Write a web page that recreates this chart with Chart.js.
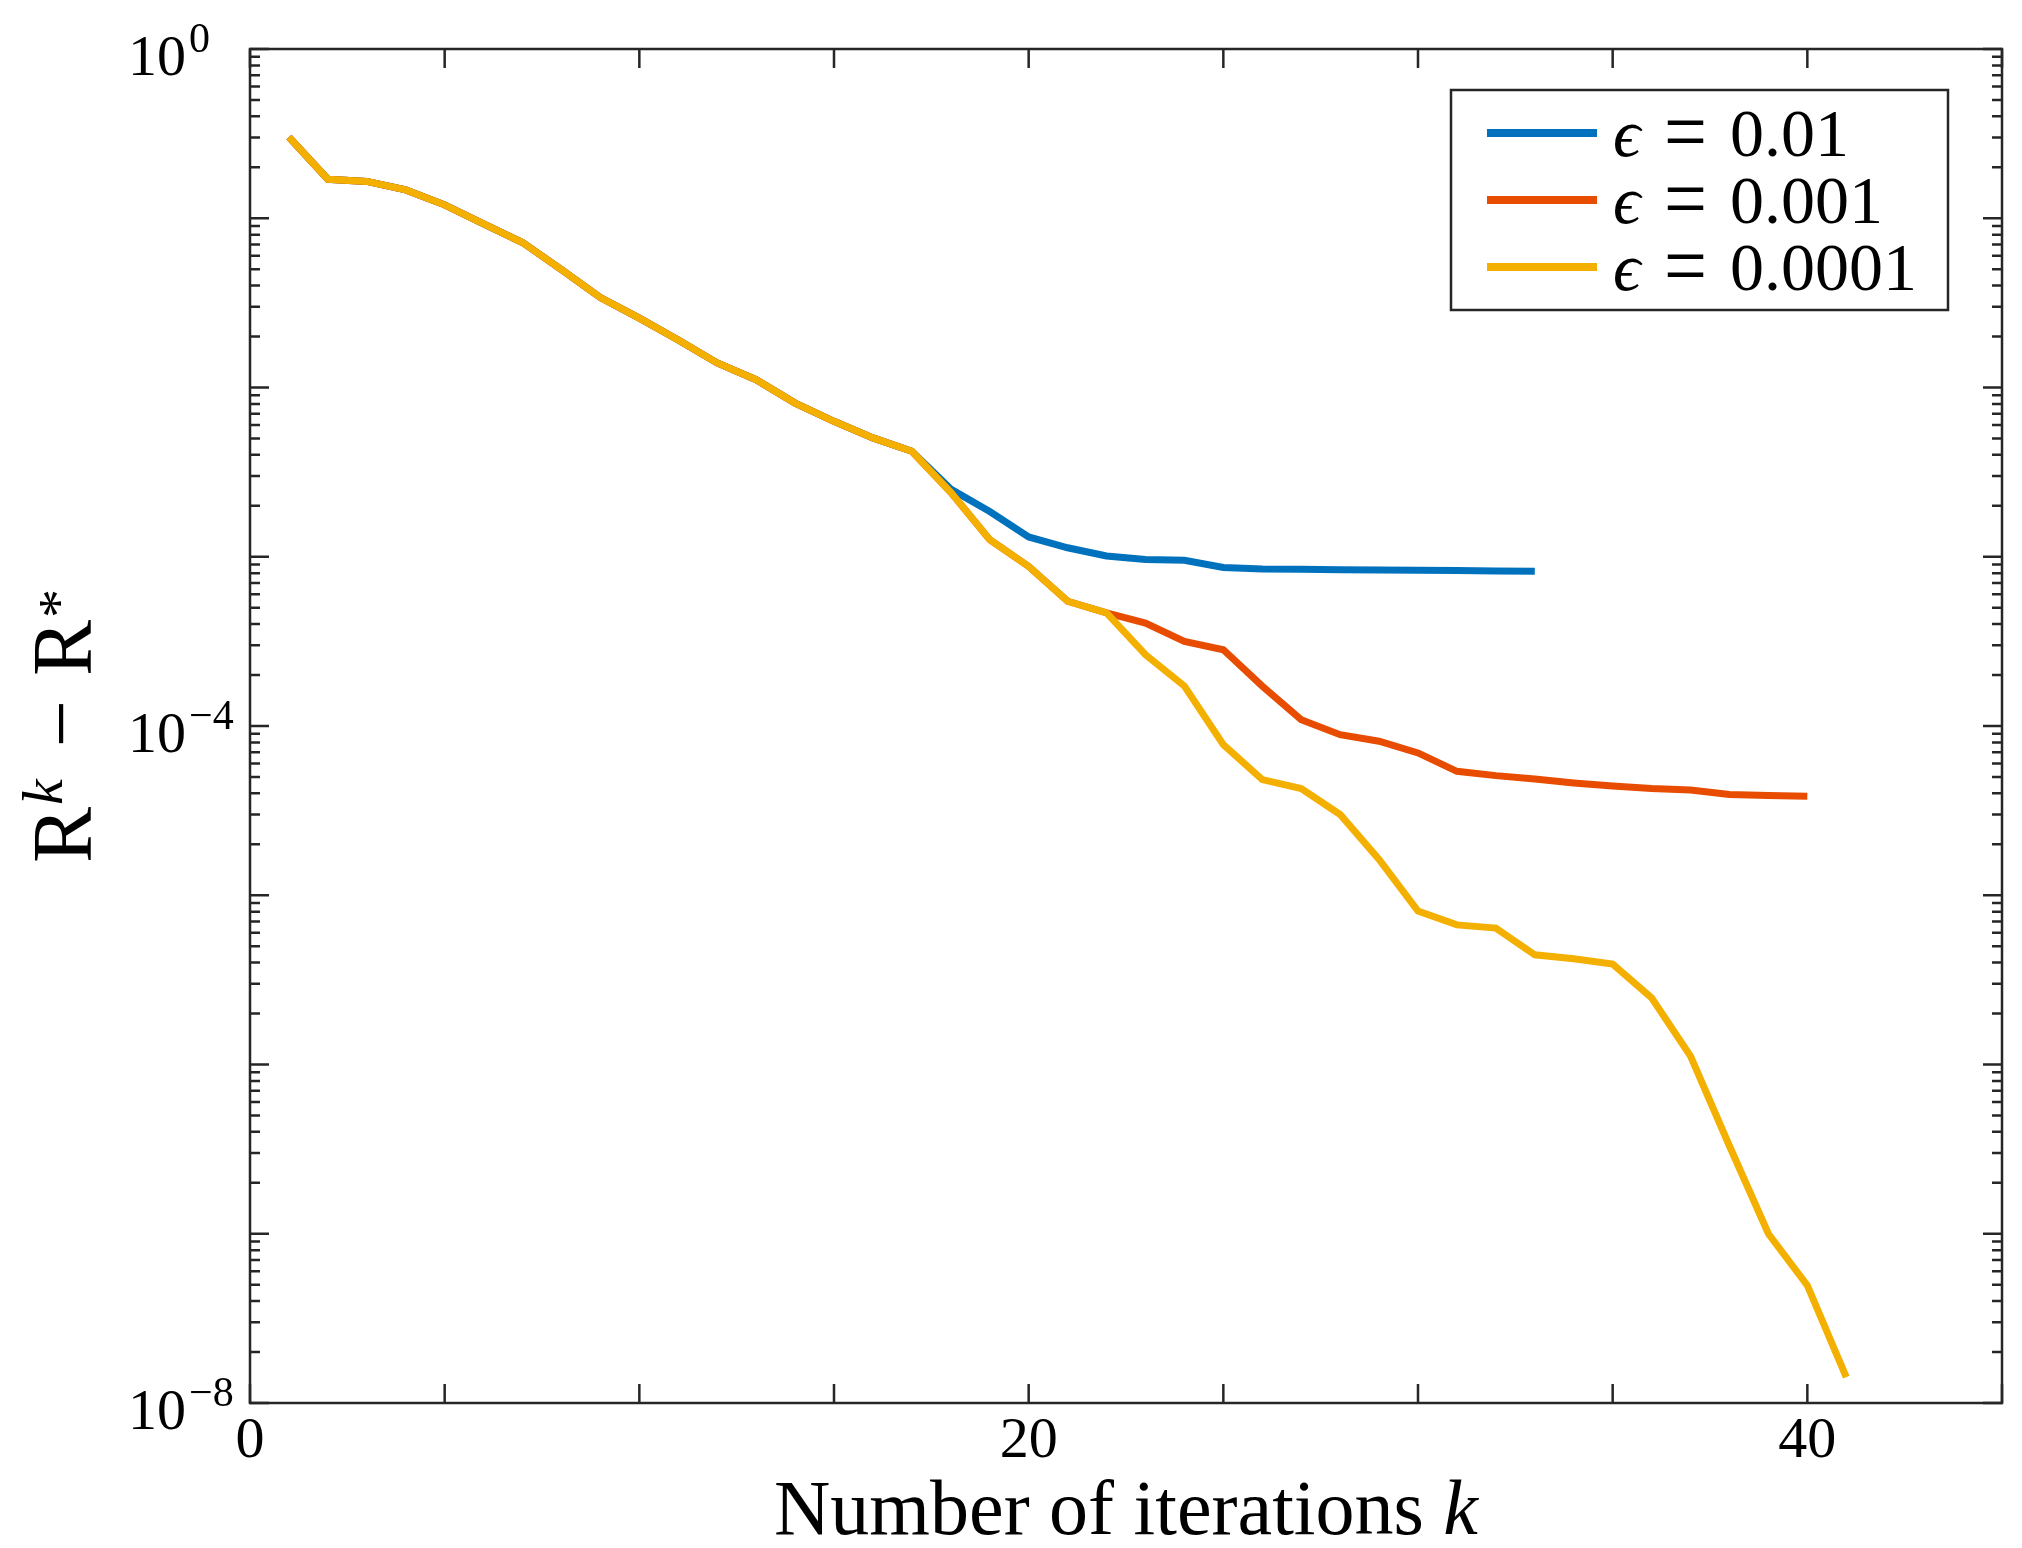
<!DOCTYPE html>
<html>
<head>
<meta charset="utf-8">
<script src="https://cdn.jsdelivr.net/npm/chart.js@4.4.1/dist/chart.umd.min.js"></script>
<style>
html, body { margin: 0; padding: 0; background: #fff; }
#wrap { width: 2022px; height: 1548px; }
</style>
</head>
<body>
<div id="wrap"><canvas id="conv_chart"></canvas></div>
<script>
// iteration index k
var iterations = [1, 2, 3, 4, 5, 6, 7, 8, 9, 10, 11, 12, 13, 14, 15, 16, 17, 18, 19, 20,
    21, 22, 23, 24, 25, 26, 27, 28, 29, 30, 31, 32, 33, 34, 35, 36, 37, 38, 39, 40, 41];

// R^k - R^* for each epsilon
var res_eps_01 = [0.302, 0.170, 0.165, 0.147, 0.120, 0.0927, 0.0719, 0.0497, 0.0340, 0.0257,
    0.0191, 0.01396, 0.01112, 0.00809, 0.00631, 0.00504, 0.00420, 0.00251, 0.00185, 0.00131,
    0.00113, 0.00101, 0.000962, 0.000953, 0.000865, 0.000847, 0.000843, 0.000839, 0.000836, 0.000832,
    0.000828, 0.000824, 0.000820];
var res_eps_001 = [0.302, 0.170, 0.165, 0.147, 0.120, 0.0927, 0.0719, 0.0497, 0.0340, 0.0257,
    0.0191, 0.01396, 0.01112, 0.00809, 0.00631, 0.00504, 0.00420, 0.00240, 0.00126, 0.000877,
    0.000546, 0.000466, 0.000406, 0.000316, 0.000282, 0.000172, 0.000109, 0.0000889, 0.0000813, 0.0000693,
    0.0000540, 0.0000509, 0.0000486, 0.0000461, 0.0000442, 0.0000427, 0.0000419, 0.0000394, 0.0000389, 0.0000385];
var res_eps_0001 = [0.302, 0.170, 0.165, 0.147, 0.120, 0.0927, 0.0719, 0.0497, 0.0340, 0.0257,
    0.0191, 0.01396, 0.01112, 0.00809, 0.00631, 0.00504, 0.00420, 0.00240, 0.00126, 0.000877,
    0.000546, 0.000466, 0.000264, 0.000172, 0.0000776, 0.0000482, 0.0000427, 0.0000300, 0.0000163, 0.00000807,
    0.00000668, 0.00000640, 0.00000445, 0.00000421, 0.00000392, 0.00000248, 0.00000112, 3.30e-7, 1.00e-7, 4.95e-8,
    1.42e-8];

var eps_values = ['0.01', '0.001', '0.0001'];
var series_colors = ['#0072BD', '#E84C00', '#F4B000'];
var x_tick_labels = [0, 20, 40];
var y_tick_exponents = [0, -4, -8];

var SERIF = "'Liberation Serif', 'DejaVu Serif', serif";
var AXIS_COLOR = '#262626';

function to_points(vals) {
    return vals.map(function(v, i) {
        return {x: iterations[i], y: v};
    });
}

// box, inward ticks and all the text
var frame_plugin = {
    id: 'frame',
    afterDraw: function(chart) {
        var ctx = chart.ctx;
        var a = chart.chartArea;
        var xs = chart.scales.x;
        var ys = chart.scales.y;
        ctx.save();

        // axes box
        ctx.strokeStyle = AXIS_COLOR;
        ctx.lineWidth = 2.5;
        ctx.strokeRect(a.left, a.top, a.right - a.left, a.bottom - a.top);

        // x ticks every 5, top and bottom
        ctx.beginPath();
        for (var v = xs.min; v <= xs.max; v += 5) {
            var px = xs.getPixelForValue(v);
            ctx.moveTo(px, a.bottom); ctx.lineTo(px, a.bottom - 19);
            ctx.moveTo(px, a.top); ctx.lineTo(px, a.top + 19);
        }
        // y log ticks, left and right
        for (var e = -8; e <= 0; e++) {
            for (var m = 1; m <= 9; m++) {
                var val = m * Math.pow(10, e);
                if (val > ys.max * 1.0001) break;
                var py = ys.getPixelForValue(val);
                var len = (m === 1) ? 19 : 10;
                ctx.moveTo(a.left, py); ctx.lineTo(a.left + len, py);
                ctx.moveTo(a.right, py); ctx.lineTo(a.right - len, py);
            }
        }
        ctx.stroke();

        ctx.fillStyle = '#000';
        ctx.textBaseline = 'alphabetic';

        // x tick labels
        ctx.font = '58px ' + SERIF;
        ctx.textAlign = 'center';
        x_tick_labels.forEach(function(t) {
            ctx.fillText(String(t), xs.getPixelForValue(t), a.bottom + 54);
        });

        // y tick labels 10^n
        y_tick_exponents.forEach(function(ex) {
            var py = ys.getPixelForValue(Math.pow(10, ex));
            ctx.font = '58px ' + SERIF;
            ctx.textAlign = 'right';
            ctx.fillText('10', a.left - 64, py + 26);
            ctx.font = '42px ' + SERIF;
            ctx.textAlign = 'left';
            ctx.fillText(ex < 0 ? '\u2212' + (-ex) : String(ex), a.left - 61, py + 3);
        });

        // x title
        var cx = (a.left + a.right) / 2;
        ctx.textAlign = 'left';
        ctx.font = '78px ' + SERIF;
        var main = 'Number of iterations ';
        var w1 = ctx.measureText(main).width;
        ctx.font = 'italic 78px ' + SERIF;
        var w2 = ctx.measureText('k').width;
        var sx = cx - (w1 + w2) / 2;
        ctx.font = '78px ' + SERIF;
        ctx.fillText(main, sx, 1534);
        ctx.font = 'italic 78px ' + SERIF;
        ctx.fillText('k', sx + w1, 1534);

        // y title R^k - R^*
        var segs = [
            {t: 'R', f: '84px ' + SERIF, dy: 0, gap: 2},
            {t: 'k', f: 'italic 58px ' + SERIF, dy: -29, gap: 32},
            {t: '\u2212', f: '84px ' + SERIF, dy: -2, gap: 24},
            {t: 'R', f: '84px ' + SERIF, dy: 0, gap: 2},
            {t: '*', f: '58px ' + SERIF, dy: -13, gap: 0}
        ];
        var total = 0;
        segs.forEach(function(s) {
            ctx.font = s.f;
            s.w = ctx.measureText(s.t).width;
            total += s.w + s.gap;
        });
        ctx.save();
        ctx.translate(91, (a.top + a.bottom) / 2);
        ctx.rotate(-Math.PI / 2);
        var tx = -total / 2;
        segs.forEach(function(s) {
            ctx.font = s.f;
            ctx.fillText(s.t, tx, s.dy);
            tx += s.w + s.gap;
        });
        ctx.restore();

        // legend box
        var bx = a.right - 551, by = a.top + 41, bw = 497, bh = 220;
        ctx.fillStyle = '#fff';
        ctx.fillRect(bx, by, bw, bh);
        ctx.strokeStyle = AXIS_COLOR;
        ctx.lineWidth = 2.5;
        ctx.strokeRect(bx, by, bw, bh);
        chart.data.datasets.forEach(function(ds, i) {
            var ly = by + 43 + i * 67;
            ctx.strokeStyle = ds.borderColor;
            ctx.lineWidth = 8;
            ctx.beginPath();
            ctx.moveTo(bx + 36, ly);
            ctx.lineTo(bx + 146, ly);
            ctx.stroke();
            ctx.fillStyle = '#000';
            ctx.textAlign = 'left';
            var base = ly + 23;
            ctx.font = 'italic 68px ' + SERIF;
            ctx.fillText('\u03F5', bx + 162, base);
            // wide math-style equals sign
            ctx.save();
            ctx.translate(bx + 213, base + 5);
            ctx.scale(1.12, 1.3);
            ctx.font = '68px ' + SERIF;
            ctx.fillText('=', 0, 0);
            ctx.restore();
            ctx.font = '68px ' + SERIF;
            ctx.fillText(eps_values[i], bx + 279, base);
        });

        ctx.restore();
    }
};

var ctx = document.getElementById('conv_chart');
var myChart = new Chart(ctx, {
    type: 'line',
    data: {
        datasets: [{
            label: '\u03F5 = ' + eps_values[0],
            data: to_points(res_eps_01),
            borderColor: series_colors[0],
            order: 2
        }, {
            label: '\u03F5 = ' + eps_values[1],
            data: to_points(res_eps_001),
            borderColor: series_colors[1],
            order: 1
        }, {
            label: '\u03F5 = ' + eps_values[2],
            data: to_points(res_eps_0001),
            borderColor: series_colors[2],
            order: 0
        }]
    },
    options: {
        responsive: true,
        maintainAspectRatio: false,
        animation: false,
        layout: {
            padding: {left: 250, top: 49, right: 20, bottom: 145}
        },
        elements: {
            line: {borderWidth: 7, tension: 0, fill: false, borderCapStyle: 'butt'},
            point: {radius: 0, hoverRadius: 0}
        },
        plugins: {
            legend: {display: false},
            tooltip: {enabled: false}
        },
        scales: {
            x: {type: 'linear', min: 0, max: 45, display: false},
            y: {type: 'logarithmic', min: 1e-8, max: 1, display: false}
        }
    },
    plugins: [frame_plugin]
});
</script>
</body>
</html>
